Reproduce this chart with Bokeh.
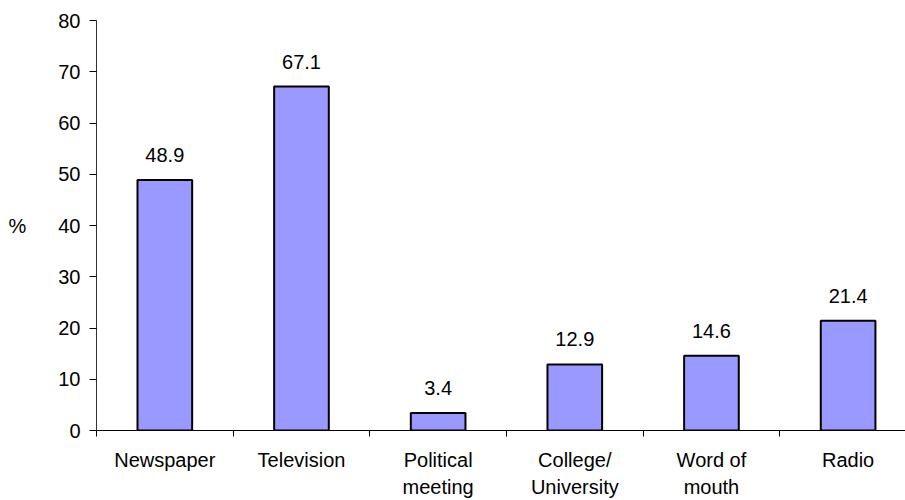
from bokeh.plotting import figure
from bokeh.models import Range1d, FixedTicker, ColumnDataSource, LabelSet, LinearAxis
from bokeh.core.properties import value
from bokeh.embed import file_html
from bokeh.resources import INLINE

categories = ["Newspaper", "Television", "Political\nmeeting", "College/\nUniversity", "Word of\nmouth", "Radio"]
values = [48.9, 67.1, 3.4, 12.9, 14.6, 21.4]
y_ticks = [0, 10, 20, 30, 40, 50, 60, 70, 80]

FONT = "Liberation Sans"

xs = [i + 0.5 for i in range(len(categories))]
source = ColumnDataSource(dict(x=xs, top=values, label=[f"{v:.1f}" for v in values]))

line1 = [c.split("\n")[0] for c in categories]
line2 = [c.split("\n")[1] if "\n" in c else "" for c in categories]

p = figure(width=905, height=500, output_backend="svg", toolbar_location=None,
           x_range=Range1d(0, 5.92), y_range=Range1d(0, 80),
           min_border_left=96, min_border_right=0, min_border_top=20, min_border_bottom=69)
p.outline_line_color = None
p.background_fill_color = "white"
p.border_fill_color = "white"
p.xgrid.visible = False
p.ygrid.visible = False

p.vbar(x="x", top="top", bottom=0, width=0.4, source=source,
       fill_color="#9999FF", line_color="black", line_width=2)

labels = LabelSet(x="x", y="top", text="label", source=source,
                  text_align="center", text_baseline="alphabetic", y_offset=18,
                  text_font=value(FONT), text_font_size=value("20px"), text_color="black")
p.add_layout(labels)

# x axis (first label line, separator ticks)
xa = p.xaxis[0]
xa.axis_label = None
xa.ticker = FixedTicker(ticks=xs, minor_ticks=list(range(len(categories) + 1)))
xa.major_label_overrides = {x: t for x, t in zip(xs, line1)}
xa.major_label_standoff = 12
xa.major_tick_line_color = None
xa.major_tick_out = 0
xa.major_tick_in = 0
xa.minor_tick_line_color = "black"
xa.minor_tick_out = 6
xa.minor_tick_in = 0
xa.axis_line_color = "black"
xa.major_label_text_font = FONT
xa.major_label_text_font_size = "20px"
xa.major_label_text_color = "black"

# second line of category labels
xa2 = LinearAxis(ticker=FixedTicker(ticks=xs, minor_ticks=[]), axis_label=None)
xa2.major_label_overrides = {x: t for x, t in zip(xs, line2)}
xa2.axis_line_color = None
xa2.major_tick_line_color = None
xa2.minor_tick_line_color = None
xa2.major_tick_out = 0
xa2.major_tick_in = 0
xa2.major_label_standoff = 2
xa2.major_label_text_font = FONT
xa2.major_label_text_font_size = "20px"
xa2.major_label_text_color = "black"
p.add_layout(xa2, "below")

# y axis
ya = p.yaxis[0]
ya.ticker = FixedTicker(ticks=y_ticks, minor_ticks=[])
ya.axis_line_color = "#333333"
ya.major_tick_line_color = "black"
ya.major_tick_out = 7
ya.major_tick_in = 0
ya.minor_tick_line_color = None
ya.major_label_standoff = 9
ya.major_label_text_font = FONT
ya.major_label_text_font_size = "20px"
ya.major_label_text_color = "black"
ya.axis_label = "%"
ya.axis_label_orientation = "horizontal"
ya.axis_label_text_font = FONT
ya.axis_label_text_font_size = "20px"
ya.axis_label_text_font_style = "normal"
ya.axis_label_text_color = "black"
ya.axis_label_standoff = 29

open("out.html", "w").write(file_html(p, INLINE))
